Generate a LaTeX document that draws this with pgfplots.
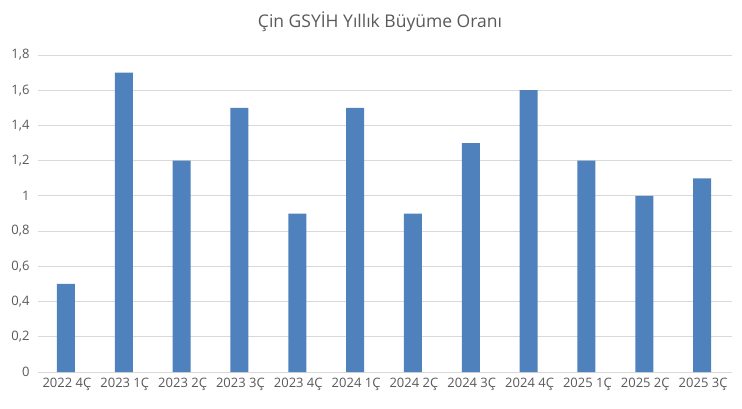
\documentclass[border=0pt]{standalone}
\usepackage{fontspec}
\setmainfont{Open Sans}
\usepackage{pgfplots}
\pgfplotsset{compat=1.18}

\definecolor{barblue}{HTML}{4F81BD}
\definecolor{txtgray}{HTML}{595959}
\definecolor{gridgray}{HTML}{D9D9D9}

\begin{document}
\begin{tikzpicture}
\begin{axis}[
  at={(0pt,0pt)}, anchor=south west,
  scale only axis, width=694pt, height=317pt,
  ybar, bar width=18pt,
  xmin=-0.5, xmax=11.5, ymin=0, ymax=1.8,
  xtick=data,
  xticklabels={2022 4Ç,2023 1Ç,2023 2Ç,2023 3Ç,2023 4Ç,2024 1Ç,2024 2Ç,2024 3Ç,2024 4Ç,2025 1Ç,2025 2Ç,2025 3Ç},
  ytick={0,0.2,...,1.8},
  /pgf/number format/fixed, /pgf/number format/precision=1,
  /pgf/number format/use comma, /pgf/number format/assume math mode=true,
  tick label style={font=\fontsize{13}{15}\selectfont, text=txtgray},
  xticklabel style={yshift=-3pt},
  yticklabel style={xshift=-5pt},
  major tick length=0pt,
  axis line style={draw=none},
  axis x line*=bottom, axis y line*=left,
  ymajorgrids, grid style={gridgray, line width=0.9pt},
  clip=false,
]
\addplot[fill=barblue, draw=none, bar shift=-1pt] coordinates {
 (0,0.5)(1,1.7)(2,1.2)(3,1.5)(4,0.9)(5,1.5)(6,0.9)(7,1.3)(8,1.6)(9,1.2)(10,1.0)(11,1.1)
};
\end{axis}
\node[font=\fontsize{17.5}{21}\selectfont, text=txtgray] at (342pt,350pt) {Çin GSYİH Yıllık Büyüme Oranı};
\useasboundingbox (-38pt,-36pt) rectangle (704pt,372pt);
\end{tikzpicture}
\end{document}
